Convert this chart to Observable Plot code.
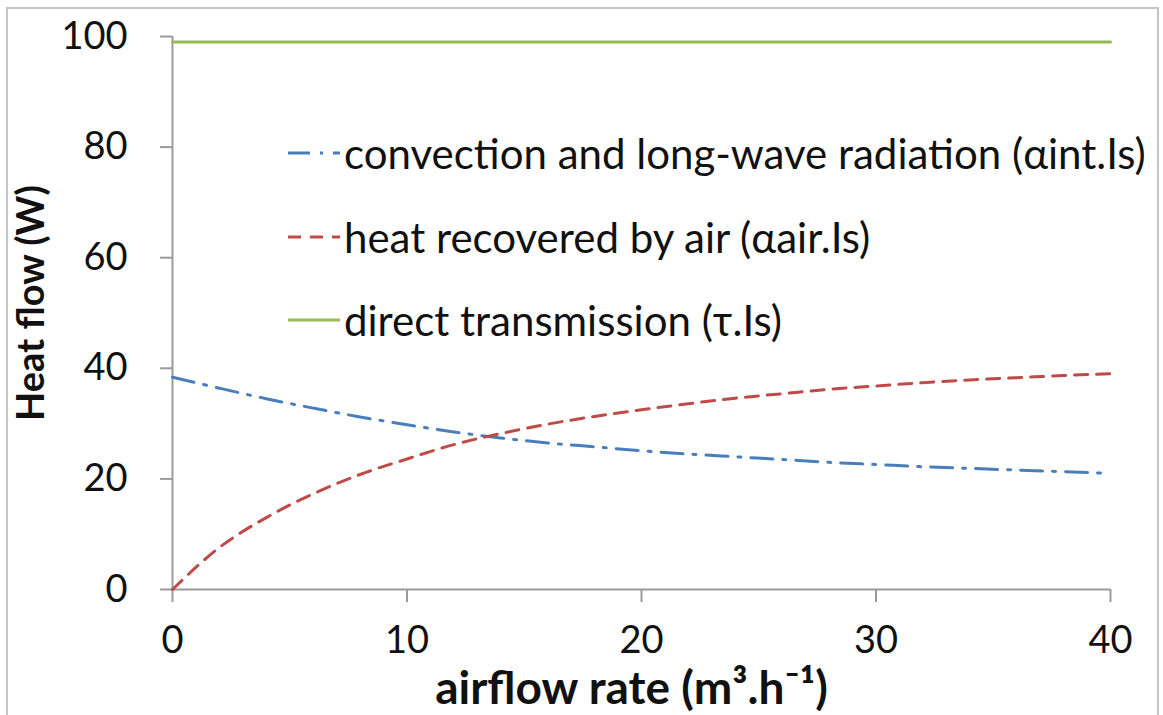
<!DOCTYPE html>
<html>
<head>
<meta charset="utf-8">
<script src="https://cdn.jsdelivr.net/npm/d3@7"></script>
<script src="https://cdn.jsdelivr.net/npm/@observablehq/plot@0.6"></script>
<style>
  html, body { margin: 0; padding: 0; background: #fff; }
  #wrap { position: relative; width: 1163px; height: 715px; overflow: hidden; font-family: Lato, "Open Sans", sans-serif; }
  #frame { position: absolute; left: 6px; top: 7px; width: 1153px; height: 760px; border: 2px solid #c4c4c4; box-sizing: border-box; pointer-events: none; }
  #legend { position: absolute; left: 0; top: 0; }
  .row { position: absolute; left: 288px; display: flex; align-items: center; height: 40px; }
  .row span { font-size: 42px; line-height: 40px; color: #111; margin-left: 4px; white-space: nowrap; }
  svg.plot { position: absolute; left: 0; top: 0; }
</style>
</head>
<body>
<div id="wrap">
  <div id="chart"></div>
  <div id="frame"></div>
  <div id="legend"></div>
</div>
<script>
// ---- data ----
const airflow = [0, 2, 4, 6, 8, 10, 12, 14, 16, 18, 20, 22, 24, 26, 28, 30, 32, 34, 36, 38, 40];
const convection = [38.4, 36.4, 34.5, 32.8, 31.2, 29.8, 28.5, 27.4, 26.5, 25.8, 25.1, 24.5, 24.0, 23.5, 23.0, 22.6, 22.2, 21.9, 21.6, 21.3, 21.0];
const recovered = [0, 7.6, 13.0, 17.3, 20.8, 23.6, 26.2, 28.2, 29.9, 31.3, 32.5, 33.6, 34.6, 35.4, 36.2, 36.8, 37.4, 37.9, 38.3, 38.7, 39.0];
const transmission = [99, 99, 99, 99, 99, 99, 99, 99, 99, 99, 99, 99, 99, 99, 99, 99, 99, 99, 99, 99, 99];
const seriesNames = [
  "convection and long-wave radiation (\u03B1int.Is)",
  "heat recovered by air (\u03B1air.Is)",
  "direct transmission (\u03C4.Is)"
];
const xTicks = [0, 10, 20, 30, 40];
const yTicks = [0, 20, 40, 60, 80, 100];
const xTitle = "airflow rate (m\u00B3.h\u207B\u00B9)";
const yTitle = "Heat flow (W)";

// ---- styles ----
const colors = ["#4a7ebb", "#be4b48", "#98b954"];
const dashes = ["22,10,3,10", "13,9", null];
const axisGray = "#9a9a9a";

const toRows = (vals) => airflow.map((x, i) => ({x, y: vals[i]}));
const series = [convection, recovered, transmission].map(toRows);

const chart = Plot.plot({
  width: 1163,
  height: 715,
  marginLeft: 172,
  marginRight: 53,
  marginTop: 36,
  marginBottom: 126,
  style: {fontFamily: "Lato, 'Open Sans', sans-serif", background: "transparent", color: "#111"},
  x: {domain: [0, 40]},
  y: {domain: [0, 100]},
  marks: [
    Plot.axisY(yTicks, {tickSize: 12, tickPadding: 33, fontSize: 38, stroke: axisGray, strokeWidth: 2, label: null, fill: "#111"}),
    Plot.axisX(xTicks, {tickSize: 13, tickPadding: 24, fontSize: 38, stroke: axisGray, strokeWidth: 2, label: null, fill: "#111"}),
    Plot.ruleX([0], {stroke: axisGray, strokeWidth: 2}),
    Plot.ruleY([0], {stroke: axisGray, strokeWidth: 2}),
    Plot.line(series[2], {x: "x", y: "y", stroke: colors[2], strokeWidth: 3}),
    Plot.line(series[0], {x: "x", y: "y", stroke: colors[0], strokeWidth: 3, strokeDasharray: dashes[0], curve: "monotone-x"}),
    Plot.line(series[1], {x: "x", y: "y", stroke: colors[1], strokeWidth: 3, strokeDasharray: dashes[1], curve: "monotone-x"}),
    Plot.text([xTitle], {frameAnchor: "bottom", lineAnchor: "middle", textAnchor: "middle", dx: -10, dy: 100, fontSize: 46, fontWeight: "bold", fill: "#111"}),
    Plot.text([yTitle], {frameAnchor: "left", lineAnchor: "middle", textAnchor: "middle", rotate: -90, dx: -141, dy: -10, fontSize: 38, fontWeight: "bold", fill: "#111"})
  ]
});
document.getElementById("chart").appendChild(chart);

// ---- legend (HTML overlay) ----
const legendTops = [133, 217, 300];
const legend = document.getElementById("legend");
seriesNames.forEach((name, i) => {
  const row = document.createElement("div");
  row.className = "row";
  row.style.top = legendTops[i] + "px";
  const ns = "http://www.w3.org/2000/svg";
  const s = document.createElementNS(ns, "svg");
  s.setAttribute("width", "52");
  s.setAttribute("height", "40");
  const l = document.createElementNS(ns, "line");
  l.setAttribute("x1", "0"); l.setAttribute("x2", "52");
  l.setAttribute("y1", "20"); l.setAttribute("y2", "20");
  l.setAttribute("stroke", colors[i]);
  l.setAttribute("stroke-width", "3");
  if (dashes[i]) l.setAttribute("stroke-dasharray", dashes[i]);
  s.appendChild(l);
  const t = document.createElement("span");
  t.textContent = name;
  row.appendChild(s);
  row.appendChild(t);
  legend.appendChild(row);
});
</script>
</body>
</html>
